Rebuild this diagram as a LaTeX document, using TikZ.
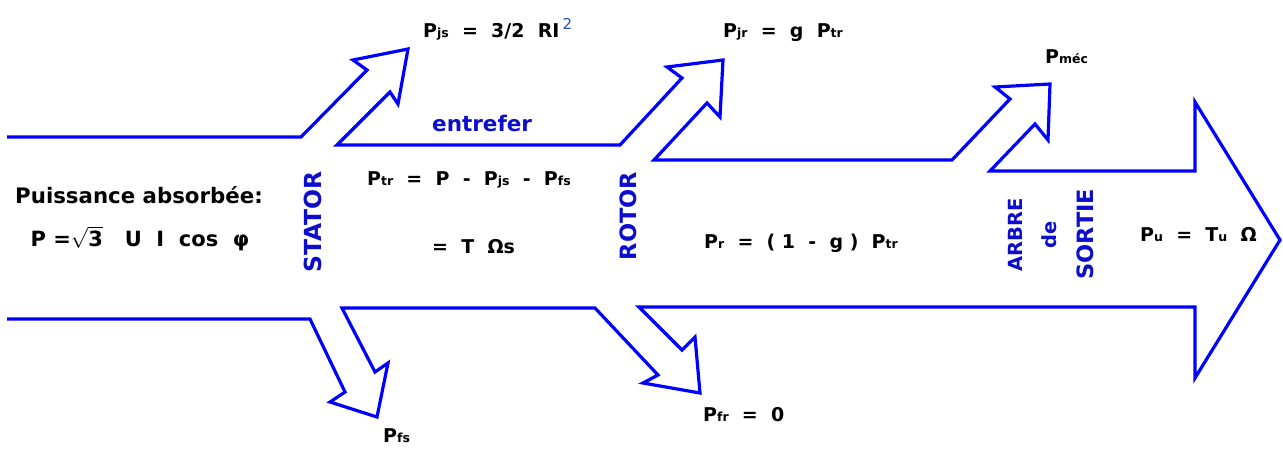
\documentclass[tikz,border=0pt]{standalone}
\usepackage{fontspec}
\setmainfont{DejaVu Sans}
\definecolor{flow}{rgb}{0,0,1}
\definecolor{lab}{rgb}{0.05,0.05,0.8}
\definecolor{supc}{rgb}{0.15,0.3,0.8}
\newcommand\sbx[1]{{\fontsize{12.5}{12}\selectfont #1}}
\begin{document}
\begin{tikzpicture}[x=1pt,y=-1pt,
  txt/.style={inner sep=0pt,anchor=base west,font=\fontsize{19}{22}\selectfont\bfseries},
  vlab/.style={inner sep=0pt,rotate=90,text=lab,font=\fontsize{23.5}{26}\selectfont\bfseries},
  flowline/.style={draw=flow,line width=3.2pt,line join=miter}]
\useasboundingbox (0,0) rectangle (1283,448);
% main power flow outline
\draw[flowline] (7,137) -- (301,137) -- (367,70) -- (353,60) -- (408,49) -- (398,104) -- (390,92)
  -- (337,145) -- (620,145) -- (682,78) -- (667,67) -- (723,60) -- (720,117) -- (707,103)
  -- (654,160) -- (952,160) -- (1010,99) -- (995,87) -- (1050,84) -- (1048,140) -- (1035,124)
  -- (990,171) -- (1195,171) -- (1195,102) -- (1280,240) -- (1195,378) -- (1195,307)
  -- (639,307) -- (682,350) -- (695,337) -- (700,393) -- (643,383) -- (658,375)
  -- (595,308) -- (342,308) -- (375,372) -- (388,363) -- (377,417) -- (330,402) -- (345,392)
  -- (310,319) -- (7,319);
% texts
\node[txt,anchor=base,font=\fontsize{21.3}{24}\selectfont\bfseries] (abs) at (139,203) {Puissance absorbée:};
\node[txt,anchor=base,font=\fontsize{21}{24}\selectfont\bfseries] (pabs) at (140,246) {P =$\sqrt{\mbox{\bfseries 3}}$\ \ \ U \ I \ cos \ φ};
\node[vlab] (stator) at (313,222) {STATOR};
\node[vlab,font=\fontsize{22.5}{26}\selectfont\bfseries] (rotor) at (628,216) {ROTOR};
\node[vlab,font=\fontsize{19.5}{22}\selectfont\bfseries] (arbre) at (1015,235) {ARBRE};
\node[vlab,font=\fontsize{19.5}{22}\selectfont\bfseries] (de) at (1049,235) {de};
\node[vlab,font=\fontsize{22.5}{22}\selectfont\bfseries] (sortie) at (1085,234) {SORTIE};
\node[txt,text=lab,font=\fontsize{21.5}{24}\selectfont\bfseries] (entrefer) at (432,131) {entrefer};
\node[txt] (pjs) at (423,37) {P\sbx{js} \ = \ 3/2 \ RI\,\raisebox{8pt}{\textcolor{supc}{\fontsize{15}{15}\selectfont\mdseries 2}}};
\node[txt] (pjr) at (723,37) {P\sbx{jr} \ = \ g \ P\sbx{tr}};
\node[txt] (pmec) at (1045,63) {P\sbx{méc}};
\node[txt] (ptr) at (367,185) {P\sbx{tr} \ = \ P \ - \ P\sbx{js} \ - \ P\sbx{fs}};
\node[txt] (tom) at (432,253) {= \ T \ Ωs};
\node[txt] (pr) at (704,248) {P\sbx{r} \ = \ ( 1 \ - \ g ) \ P\sbx{tr}};
\node[txt] (pu) at (1140,241) {P\sbx{u} \ = \ T\sbx{u} \ Ω};
\node[txt] (pfs) at (383,442) {P\sbx{fs}};
\node[txt] (pfr) at (703,421) {P\sbx{fr} \ = \ 0};
\end{tikzpicture}
\end{document}
